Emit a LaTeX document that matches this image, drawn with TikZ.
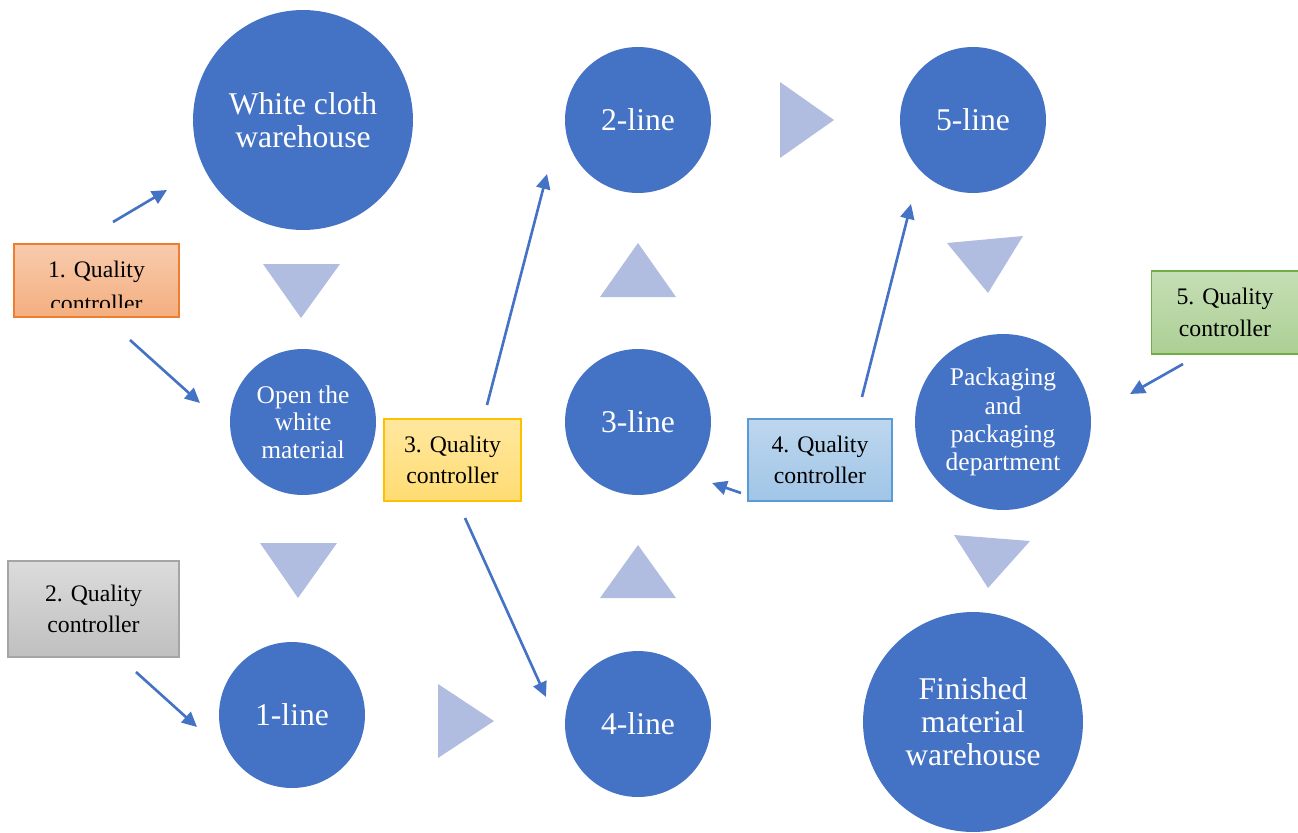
\documentclass[tikz,border=0pt]{standalone}
\usepackage{fontspec}
\setmainfont{Liberation Serif}
\usetikzlibrary{arrows.meta}
\definecolor{stageblue}{HTML}{4472C4}
\definecolor{stepshade}{HTML}{B1BDE0}
\definecolor{flowblue}{HTML}{4472C4}
\definecolor{qcorange}{HTML}{ED7D31}
\definecolor{qcgrey}{HTML}{A5A5A5}
\definecolor{qcyellow}{HTML}{FFC000}
\definecolor{qcblue}{HTML}{5B9BD5}
\definecolor{qcgreen}{HTML}{70AD47}
\tikzset{
  stage/.style={circle,fill=stageblue,text=white,align=center,inner sep=0pt,
    font=\fontsize{18}{18.8}\selectfont},
  smallstage/.style={stage,minimum size=2.92cm},
  bigstage/.style={stage,minimum size=4.4cm},
  qcbox/.style={rectangle,draw,line width=0.6pt,align=center,inner sep=0pt,
    font=\fontsize{13.5}{17.8}\selectfont},
  flow/.style={draw=flowblue,line width=1.5pt,-{Triangle[width=8pt,length=8.5pt]}}
}
\begin{document}
\begin{tikzpicture}[x=0.02cm,y=-0.02cm]
\useasboundingbox (0,0) rectangle (1298,832);

% stages
\path
(303,120) node[bigstage](cloth){White cloth\\warehouse}
(303,422) node[smallstage,font=\fontsize{14.5}{15.6}\selectfont](open){Open the\\white\\material}
(292,715) node[smallstage](l1){1-line}
(638,120) node[smallstage](l2){2-line}
(638,422) node[smallstage](l3){3-line}
(638,724) node[smallstage](l4){4-line}
(973,120) node[smallstage](l5){5-line}
(1003,422) node[stage,minimum size=3.52cm,font=\fontsize{14.5}{16}\selectfont](pack){Packaging\\and\\packaging\\department}
(973,722) node[bigstage](fin){Finished\\material\\warehouse};

% step triangles
\fill[stepshade] (263,264) -- (340,264) -- (301,318) -- cycle;
\fill[stepshade] (260,543) -- (337,543) -- (298,598) -- cycle;
\fill[stepshade] (438,684) -- (438,758) -- (494,721) -- cycle;
\fill[stepshade] (600,598) -- (676,598) -- (638,545) -- cycle;
\fill[stepshade] (600,297) -- (676,297) -- (638,243) -- cycle;
\fill[stepshade] (780,82) -- (780,158) -- (834,120) -- cycle;
\fill[stepshade] (947,243) -- (1023,236) -- (988,293) -- cycle;
\fill[stepshade] (954,535) -- (1030,541) -- (988,588) -- cycle;

% quality controllers
\path
(96.5,280.5) node[qcbox,draw=qcorange,top color=qcorange!40!white,bottom color=qcorange!62!white,
  minimum width=3.3cm,minimum height=1.46cm,
  path picture={\clip ([yshift=0.2cm]path picture bounding box.south west) rectangle (path picture bounding box.north east);
  \node[align=center,font=\fontsize{13.5}{19}\selectfont] at ([yshift=-0.12cm]path picture bounding box.center) {1. Quality\\controller};}](q1){}
(93.5,609) node[qcbox,draw=qcgrey,top color=black!14,bottom color=black!25,
  minimum width=3.42cm,minimum height=1.92cm](q2){2. Quality\\controller}
(452.5,460) node[qcbox,draw=qcyellow,top color=qcyellow!38!white,bottom color=qcyellow!55!white,
  minimum width=2.74cm,minimum height=1.64cm](q3){3. Quality\\controller}
(820,460) node[qcbox,draw=qcblue,top color=qcblue!40!white,bottom color=qcblue!58!white,
  minimum width=2.88cm,minimum height=1.64cm](q4){4. Quality\\controller}
(1225,312.5) node[qcbox,draw=qcgreen,top color=qcgreen!40!white,bottom color=qcgreen!58!white,
  minimum width=2.94cm,minimum height=1.66cm](q5){5. Quality\\controller};

% arrow ends
\path
(113,222) coordinate(q1up) (167,190) coordinate(q1upend)
(130,340) coordinate(q1dn) (200,403) coordinate(q1dnend)
(136,672) coordinate(q2out) (197,727) coordinate(q2end)
(487,405) coordinate(q3up) (547,174) coordinate(q3upend)
(465,518) coordinate(q3dn) (546,697) coordinate(q3dnend)
(741,493) coordinate(q4lt) (712,483) coordinate(q4ltend)
(862,397) coordinate(q4up) (911,204) coordinate(q4upend)
(1183,364) coordinate(q5out) (1130,394) coordinate(q5end);

\path[flow] (q1up)--(q1upend);
\path[flow] (q1dn)--(q1dnend);
\path[flow] (q2out)--(q2end);
\path[flow] (q3up)--(q3upend);
\path[flow] (q3dn)--(q3dnend);
\path[flow] (q4lt)--(q4ltend);
\path[flow] (q4up)--(q4upend);
\path[flow] (q5out)--(q5end);
\end{tikzpicture}
\end{document}
